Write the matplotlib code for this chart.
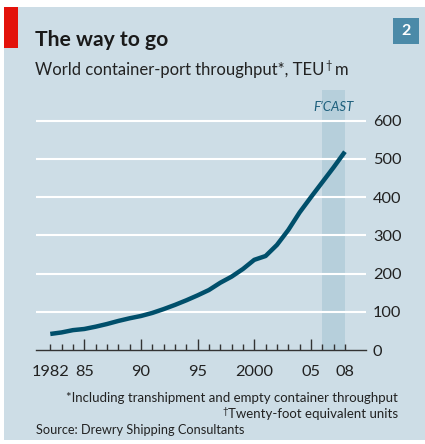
import matplotlib
matplotlib.use("Agg")
import matplotlib.pyplot as plt
from matplotlib.patches import Rectangle

plt.rcParams['font.family'] = ['Lato', 'DejaVu Sans']

# data (TEU, m)
years = [1982, 1983, 1984, 1985, 1986, 1987, 1988, 1989, 1990, 1991, 1992, 1993, 1994,
         1995, 1996, 1997, 1998, 1999, 2000, 2001, 2002, 2003, 2004, 2005, 2006, 2007, 2008]
teu = [42, 46, 52, 55, 61, 68, 76, 83, 89, 97, 107, 118, 130,
       143, 157, 176, 192, 212, 236, 246, 275, 314, 360, 400, 439, 478, 519]
forecast_span = [2006, 2008]
y_ticks = [0, 100, 200, 300, 400, 500, 600]
x_ticks = [1982, 1985, 1990, 1995, 2000, 2005, 2008]
x_tick_labels = ['1982', '85', '90', '95', '2000', '05', '08']

bg = '#cddde6'
shade = '#b6cfdb'
line_col = '#004f6b'
text_col = '#222222'

W, H = 425, 444
fig = plt.figure(figsize=(W / 100, H / 100), dpi=100, facecolor='white')

# blue panel, red tab, number box
fig.patches.append(Rectangle((4 / W, 1 - 440 / H), 421 / W, 433 / H, transform=fig.transFigure,
                             facecolor=bg, edgecolor='none', zorder=-5))
fig.patches.append(Rectangle((4 / W, 1 - 48 / H), 14 / W, 41 / H, transform=fig.transFigure,
                             facecolor='#e3120b', edgecolor='none', zorder=-4))
fig.patches.append(Rectangle((393 / W, 1 - 44 / H), 26 / W, 26 / H, transform=fig.transFigure,
                             facecolor='#4b8aa8', edgecolor='none', zorder=-4))
fig.text(406 / W, 1 - 31 / H, '2', color='white', fontsize=11.5, fontweight='bold',
         ha='center', va='center')

fig.text(35 / W, 1 - 46 / H, 'The way to go', fontsize=15.2, fontweight='bold',
         color='#1a1a1a', va='baseline')
sub = fig.text(35 / W, 1 - 75 / H, 'World container-port throughput*, TEU', fontsize=12,
               color=text_col, va='baseline')

# axes
ax = fig.add_axes([36 / W, (H - 350) / H, 330 / W, (350 - 90.2) / H])
ax.set_facecolor('none')
ax.set_xlim(1980.74, 2009.86)
ax.set_ylim(0, 680)

ax.axvspan(forecast_span[0], forecast_span[1], color=shade, lw=0, zorder=0)
ax.text(sum(forecast_span) / 2, 636, "F\u2019CAST", color='#1d5f7c', fontsize=9.5,
        style='italic', ha='center', va='center')

for v in y_ticks[1:]:
    ax.axhline(v, color='white', lw=1.5, zorder=1)

ax.plot(years, teu, color=line_col, lw=3.2, solid_capstyle='butt', zorder=3)

for s in ['top', 'left', 'right']:
    ax.spines[s].set_visible(False)
ax.spines['bottom'].set_color('#333333')
ax.spines['bottom'].set_linewidth(1)

ax.yaxis.tick_right()
ax.set_yticks(y_ticks)
ax.set_yticklabels([str(v) for v in y_ticks])
ax.tick_params(axis='y', length=0, pad=5, labelsize=11.8, labelcolor=text_col)

ax.set_xticks(x_ticks)
ax.set_xticklabels(x_tick_labels)
ax.set_xticks(years, minor=True)
ax.tick_params(axis='x', which='major', direction='in', length=8, width=1, color='#333333',
               labelsize=11.8, labelcolor=text_col, pad=11)
ax.tick_params(axis='x', which='minor', direction='in', length=4, width=1, color='#333333')
for i in (0, len(x_ticks) - 1):
    ax.xaxis.get_major_ticks()[i].tick1line.set_markersize(4)

# footnotes
fig.text(398 / W, 1 - 402 / H, '*Including transhipment and empty container throughput',
         fontsize=9.5, color=text_col, ha='right', va='baseline')
foot2 = fig.text(398 / W, 1 - 418 / H, 'Twenty-foot equivalent units',
                 fontsize=9.5, color=text_col, ha='right', va='baseline')
fig.text(36 / W, 1 - 434 / H, 'Source: Drewry Shipping Consultants',
         fontsize=9.2, color=text_col, va='baseline')

# superscript daggers placed next to the text they belong to
fig.canvas.draw()
r = fig.canvas.get_renderer()
bb = sub.get_window_extent(r)
dag = fig.text(bb.x1 / W + 0.5 / W, 1 - 69 / H, '\u2020', fontsize=8, color=text_col, va='baseline')
db = dag.get_window_extent(r)
fig.text(db.x1 / W + 4 / W, 1 - 75 / H, 'm', fontsize=12, color=text_col, va='baseline')
bb2 = foot2.get_window_extent(r)
fig.text(bb2.x0 / W, 1 - 414 / H, '\u2020', fontsize=7, color=text_col, ha='right', va='baseline')

fig.savefig('out.png', dpi=100, facecolor='white')
